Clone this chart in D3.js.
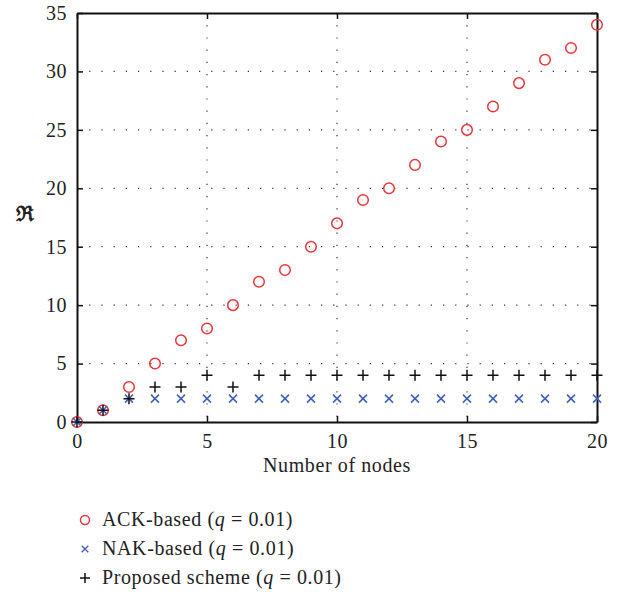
<!DOCTYPE html>
<html>
<head>
<meta charset="utf-8">
<script src="https://cdn.jsdelivr.net/npm/d3@7"></script>
<style>
body { margin: 0; background: #fff; }
text { font-family: "Liberation Serif", "DejaVu Serif", serif; fill: #222; }
</style>
</head>
<body>
<svg id="chart" width="629" height="593"></svg>
<script>
// donnees
var nodes = d3.range(0, 21);
var ackBased = [0, 1, 3, 5, 7, 8, 10, 12, 13, 15, 17, 19, 20, 22, 24, 25, 27, 29, 31, 32, 34];
var nakBased = [0, 1, 2, 2, 2, 2, 2, 2, 2, 2, 2, 2, 2, 2, 2, 2, 2, 2, 2, 2, 2];
var proposed = [0, 1, 2, 3, 3, 4, 3, 4, 4, 4, 4, 4, 4, 4, 4, 4, 4, 4, 4, 4, 4];
var xTicks = [0, 5, 10, 15, 20];
var yTicks = [0, 5, 10, 15, 20, 25, 30, 35];
var legendLabels = ["ACK-based", "NAK-based", "Proposed scheme"];

var svg = d3.select("#chart"),
    margin = { top: 13, right: 32, bottom: 171, left: 77 },
    width = +svg.attr("width") - margin.left - margin.right,
    height = +svg.attr("height") - margin.top - margin.bottom;

var x = d3.scaleLinear().domain([0, 20]).range([0, width]);
var y = d3.scaleLinear().domain([0, 35]).range([height, 0]);

var g = svg.append("g").attr("transform", "translate(" + margin.left + "," + margin.top + ")");

// grille pointillee
g.selectAll(".vgrid").data(xTicks.slice(1, -1)).enter().append("line")
    .attr("x1", d => x(d)).attr("x2", d => x(d))
    .attr("y1", 0).attr("y2", height)
    .attr("stroke", "#333").attr("stroke-width", 1.2)
    .attr("stroke-dasharray", "1.2,11");
g.selectAll(".hgrid").data(yTicks.slice(1, -1)).enter().append("line")
    .attr("y1", d => y(d)).attr("y2", d => y(d))
    .attr("x1", 0).attr("x2", width)
    .attr("stroke", "#333").attr("stroke-width", 1.2)
    .attr("stroke-dasharray", "1.2,11");

// axes (ticks vers l'interieur)
g.append("g").attr("transform", "translate(0," + height + ")")
    .call(d3.axisBottom(x).tickValues(xTicks).tickSizeInner(-6).tickSizeOuter(0).tickPadding(12));
g.append("g")
    .call(d3.axisLeft(y).tickValues(yTicks).tickSizeInner(-6).tickSizeOuter(0).tickPadding(10));
g.append("g").call(d3.axisTop(x).tickValues(xTicks).tickSizeInner(-6).tickSizeOuter(0).tickFormat(""));
g.append("g").attr("transform", "translate(" + width + ",0)")
    .call(d3.axisRight(y).tickValues(yTicks).tickSizeInner(-6).tickSizeOuter(0).tickFormat(""));

g.selectAll(".domain").attr("stroke", "#111").attr("stroke-width", 2);
g.selectAll(".tick line").attr("stroke", "#111").attr("stroke-width", 1.5);
g.selectAll(".tick text").style("font-size", "20px").style("letter-spacing", "0.5px").attr("fill", "#222");

// marqueurs
var red = "#e8363a", blue = "#3d5fb8";
function cross(sel, xs, ys, s) {
    sel.append("path").attr("d", "M" + (xs - s) + "," + (ys - s) + "L" + (xs + s) + "," + (ys + s) +
        "M" + (xs - s) + "," + (ys + s) + "L" + (xs + s) + "," + (ys - s));
}
function plus(sel, xs, ys, s) {
    sel.append("path").attr("d", "M" + (xs - s) + "," + ys + "L" + (xs + s) + "," + ys +
        "M" + xs + "," + (ys - s) + "L" + xs + "," + (ys + s));
}

g.selectAll(".ack").data(nodes).enter().append("circle")
    .attr("cx", d => x(d)).attr("cy", d => y(ackBased[d]))
    .attr("r", 5.3).attr("fill", "none").attr("stroke", red).attr("stroke-width", 1.5);

var nak = g.append("g").attr("stroke", blue).attr("stroke-width", 1.5).attr("fill", "none");
nodes.forEach(function (d) { cross(nak, x(d), y(nakBased[d]), 4); });

var prop = g.append("g").attr("stroke", "#111").attr("stroke-width", 1.5).attr("fill", "none");
nodes.forEach(function (d) { plus(prop, x(d), y(proposed[d]), 5.5); });

// titres des axes
svg.append("text").attr("x", margin.left + width / 2).attr("y", 472)
    .attr("text-anchor", "middle").style("font-size", "20px").style("letter-spacing", "0.6px")
    .text("Number of nodes");
svg.append("text").attr("x", 25).attr("y", 221)
    .attr("text-anchor", "middle").style("font-size", "21px").style("font-weight", "bold").text("\u211C");

// legende
var leg = svg.append("g");
legendLabels.forEach(function (lab, i) {
    var ly = 520 + i * 29;
    var row = leg.append("g");
    if (i === 0) row.append("circle").attr("cx", 85).attr("cy", ly).attr("r", 4.5)
        .attr("fill", "none").attr("stroke", red).attr("stroke-width", 1.5);
    if (i === 1) cross(row.append("g").attr("stroke", blue).attr("stroke-width", 1.3), 85, ly, 3.3);
    if (i === 2) plus(row.append("g").attr("stroke", "#111").attr("stroke-width", 1.5), 85, ly, 5);
    var t = row.append("text").attr("x", 102).attr("y", ly + 6)
        .style("font-size", "20px").style("letter-spacing", "0.6px");
    t.append("tspan").text(lab + " (");
    t.append("tspan").style("font-style", "italic").text("q");
    t.append("tspan").text(" = 0.01)");
});
</script>
</body>
</html>
